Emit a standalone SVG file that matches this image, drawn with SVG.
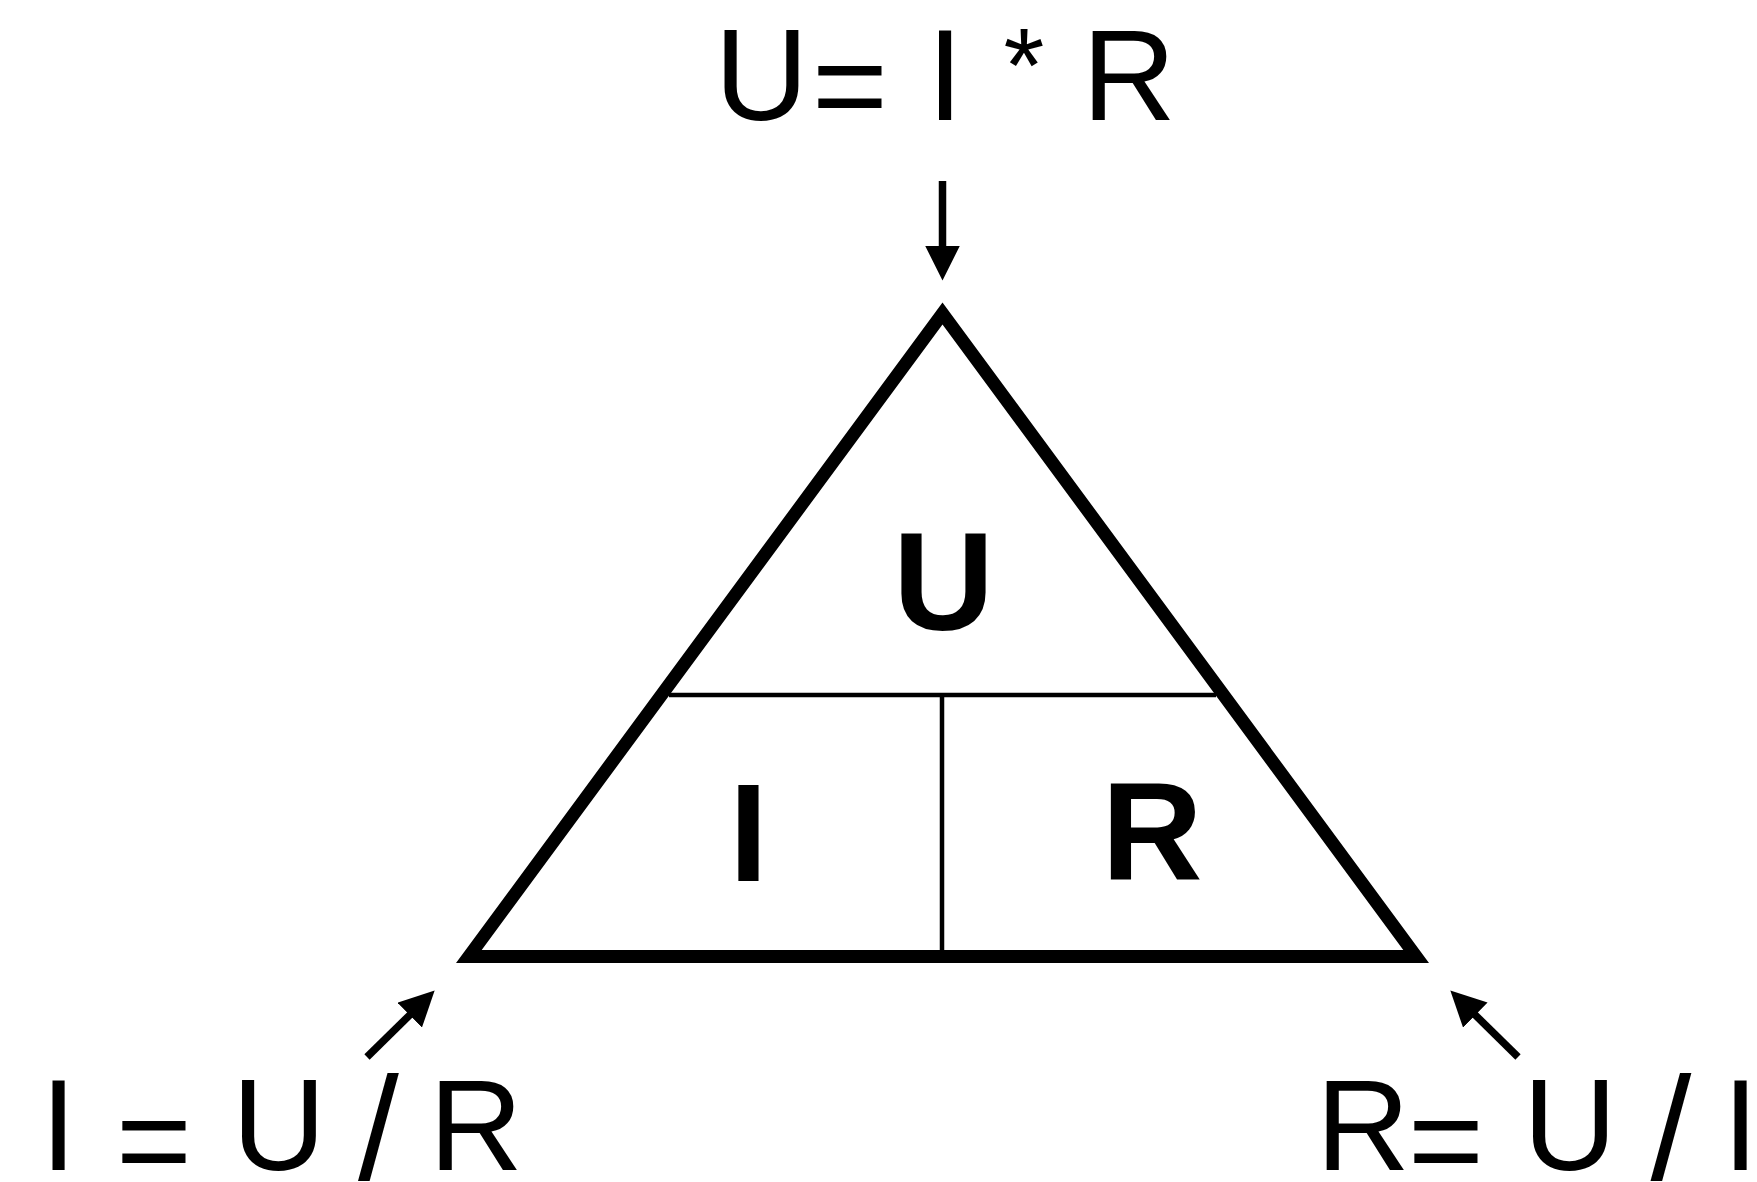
<svg xmlns="http://www.w3.org/2000/svg" width="1757" height="1182" viewBox="0 0 1757 1182">
<style>
.eq{font-family:"Liberation Sans",Arial,sans-serif;font-size:130px;fill:#000;text-anchor:middle}
.sl{font-size:147px}
.ast{font-size:105px}
.lbl{font-family:"Liberation Sans",Arial,sans-serif;font-size:140px;font-weight:bold;fill:#000;text-anchor:middle}
.thin{stroke:#000;stroke-width:4.5;fill:none}
.arr{stroke:#000;stroke-width:7.5;fill:none;marker-end:url(#head)}
</style>
<defs>
<marker id="head" markerUnits="userSpaceOnUse" markerWidth="36" markerHeight="36" refX="1" refY="17.5" orient="auto">
<path d="M0,0 L35,17.5 L0,35 Z" fill="#000"/>
</marker>
</defs>
<rect width="1757" height="1182" fill="#fff"/>
<g id="triangle">
<path d="M456,963 L942.5,302.5 L1429,963 Z M481.7,950 L942.5,324.4 L1403.3,950 Z" fill="#000" fill-rule="evenodd"/>
<line class="thin" x1="669" y1="695" x2="1216" y2="695"/>
<line class="thin" x1="942" y1="695" x2="942" y2="951"/>
</g>
<g id="node-U"><text class="lbl" x="943.5" y="630">U</text></g>
<g id="node-I"><text class="lbl" x="748.5" y="881">I</text></g>
<g id="node-R"><text class="lbl" x="1152" y="879">R</text></g>
<g id="formula-top"><text class="eq" y="120"><tspan x="761.5">U</tspan><tspan x="850" y="130">=</tspan><tspan x="945" y="120">I</tspan><tspan class="ast" x="1024" y="102">*</tspan><tspan x="1129" y="120">R</tspan></text></g>
<g id="formula-left"><text class="eq" y="1170"><tspan x="58.5">I</tspan><tspan x="154" y="1185">=</tspan><tspan x="279" y="1170">U</tspan><tspan class="sl" x="378.5" y="1179">/</tspan><tspan x="476" y="1170">R</tspan></text></g>
<g id="formula-right"><text class="eq" y="1170"><tspan x="1363">R</tspan><tspan x="1446" y="1185">=</tspan><tspan x="1570" y="1170">U</tspan><tspan class="sl" x="1671" y="1179">/</tspan><tspan x="1740.5" y="1170">I</tspan></text></g>
<g id="connectors">
<line class="arr" x1="942.5" y1="181" x2="942.5" y2="246.5"/>
<line class="arr" x1="367" y1="1057" x2="410.4" y2="1014.4"/>
<line class="arr" x1="1518" y1="1057" x2="1474.6" y2="1014.4"/>
</g>
</svg>
